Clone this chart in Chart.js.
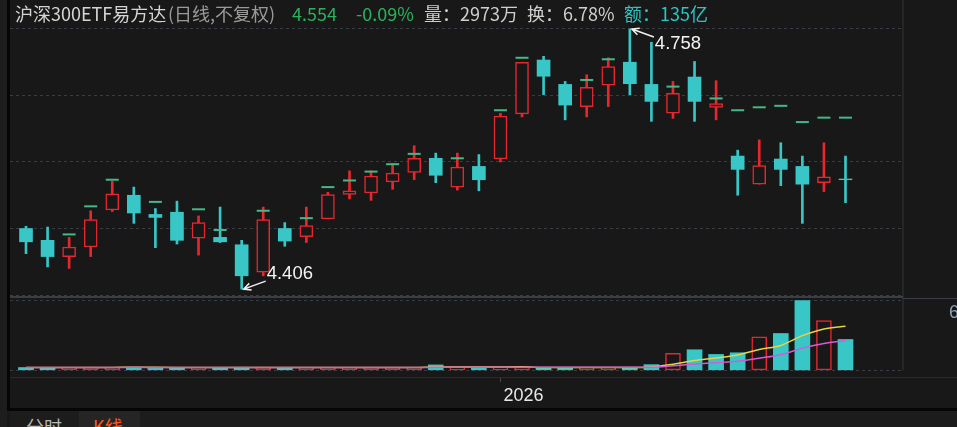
<!DOCTYPE html>
<html>
<head>
<meta charset="utf-8">
<script src="https://cdn.jsdelivr.net/npm/chart.js@4.4.1/dist/chart.umd.min.js"></script>
<style>
  html, body { margin: 0; padding: 0; background: #181818; width: 957px; height: 427px; overflow: hidden; }
  #wrap { position: relative; width: 957px; height: 427px; }
  #chart { position: absolute; left: 0; top: 0; }
  .strip { position: absolute; left: 0; top: 0; width: 7px; height: 427px; background: #1d1d1d; }
  .edge { position: absolute; left: 7px; top: 0; width: 3px; height: 411px; background: #060606; }
  .footline { position: absolute; left: 7px; top: 408px; width: 950px; height: 3px; background: #060606; }
  .footer { position: absolute; left: 10px; top: 411px; width: 947px; height: 16px; background: #1c1c1c; }
  .tabon { position: absolute; left: 79px; top: 411px; width: 61px; height: 16px; background: #252525; }
  .tab { position: absolute; top: 417px; font: 18px "Noto Sans CJK SC"; line-height: 18px; white-space: nowrap; }
  .title span { position: absolute; top: 4px; font: 18px "Noto Sans CJK SC"; line-height: 18px; white-space: nowrap; }
</style>
</head>
<body>
<div id="wrap">
  <div class="strip"></div>
  <div class="edge"></div>
  <div class="footline"></div>
  <div class="footer"></div>
  <div class="tabon"></div>
  <span class="tab" style="left:26px;color:#b8b8b8">分时</span>
  <span class="tab" style="left:93px;color:#ff5a1e">K线</span>
  <canvas id="chart" width="957" height="408"></canvas>
  <div class="title">
    <span style="left:15px;color:#d4d4d4">沪深300ETF易方达</span>
    <span style="left:168px;color:#9a9a9a">(日线,不复权)</span>
    <span style="left:292px;color:#2bb35b">4.554</span>
    <span style="left:356px;color:#2bb35b">-0.09%</span>
    <span style="left:424px;color:#cfcfcf">量：2973万</span>
    <span style="left:527px;color:#cfcfcf">换：6.78%</span>
    <span style="left:624px;color:#2ec4c4">额：135亿</span>
  </div>
</div>
<script>
// trading days shown
const dates = [
  '2025-12-02','2025-12-03','2025-12-04','2025-12-05','2025-12-08','2025-12-09','2025-12-10',
  '2025-12-11','2025-12-12','2025-12-15','2025-12-16','2025-12-17','2025-12-18','2025-12-19',
  '2025-12-22','2025-12-23','2025-12-24','2025-12-25','2025-12-26','2025-12-29','2025-12-30',
  '2025-12-31','2026-01-05','2026-01-06','2026-01-07','2026-01-08','2026-01-09','2026-01-12',
  '2026-01-13','2026-01-14','2026-01-15','2026-01-16','2026-01-19','2026-01-20','2026-01-21',
  '2026-01-22','2026-01-23','2026-01-26','2026-01-27'
];
const opens  = [4.488,4.472,4.450,4.463,4.513,4.533,4.507,4.510,4.475,4.476,4.466,4.429,4.488,4.477,
                4.501,4.534,4.536,4.551,4.564,4.583,4.544,4.572,4.582,4.643,4.716,4.683,4.653,4.682,
                4.713,4.683,4.644,4.693,4.652,4.586,4.548,4.582,4.572,4.550,4.555];
const highs  = [4.491,4.490,4.476,4.512,4.552,4.544,4.515,4.525,4.505,4.517,4.472,4.517,4.496,4.517,
                4.537,4.566,4.566,4.576,4.600,4.590,4.590,4.588,4.644,4.713,4.721,4.687,4.696,4.719,
                4.758,4.740,4.687,4.714,4.688,4.594,4.608,4.604,4.586,4.604,4.586];
const lows   = [4.454,4.436,4.434,4.450,4.511,4.495,4.462,4.467,4.452,4.469,4.406,4.424,4.464,4.469,
                4.501,4.528,4.526,4.541,4.554,4.550,4.540,4.539,4.578,4.639,4.669,4.635,4.639,4.653,
                4.669,4.633,4.637,4.633,4.635,4.533,4.548,4.546,4.495,4.538,4.523];
const closes = [4.470,4.450,4.463,4.500,4.535,4.509,4.503,4.472,4.496,4.470,4.424,4.500,4.471,4.492,
                4.534,4.539,4.559,4.563,4.583,4.560,4.571,4.554,4.640,4.713,4.694,4.655,4.679,4.707,
                4.684,4.660,4.671,4.660,4.657,4.568,4.573,4.568,4.548,4.558,4.554];
// green marks drawn above the candles
const markers = [null,null,4.480,4.518,4.554,null,4.524,null,4.514,4.486,null,4.512,null,4.502,
                 4.544,4.553,4.565,4.575,4.589,null,4.583,null,4.648,4.719,null,null,4.689,4.717,
                 null,null,4.680,null,4.664,4.648,4.652,4.654,4.632,4.638,4.638];
// volume, 万
const volumes = [270,260,285,300,280,300,250,270,260,245,290,300,255,260,280,265,255,250,275,520,
                 280,265,290,300,260,250,270,280,240,545,1630,1980,1530,1690,3220,3550,6710,4790,2973];
const priceTicks = [4.398, 4.488, 4.578, 4.668, 4.758];

const UP = '#e8262e', DOWN = '#38c6c6', BG = '#181818';

function isUp(i) {
  if (closes[i] !== opens[i]) return closes[i] > opens[i];
  return i > 0 ? closes[i] >= closes[i - 1] : true;
}
function volUp(i) {
  return i > 0 ? closes[i] >= closes[i - 1] : closes[i] >= opens[i];
}
function movingAvg(arr, n) {
  return arr.map((v, i) => {
    const part = arr.slice(Math.max(0, i - n + 1), i + 1);
    return part.reduce((a, b) => a + b, 0) / part.length;
  });
}
const ma5 = movingAvg(volumes, 5);
const ma10 = movingAvg(volumes, 10);

// first index of each new year -> x axis label
const yearStarts = dates.map((d, i) => i).filter(i => i > 0 && dates[i].slice(0, 4) !== dates[i - 1].slice(0, 4));

// keep axis label padding from shrinking the plot
function noPad(s) {
  s.paddingTop = 0; s.paddingBottom = 0; s.paddingLeft = 0; s.paddingRight = 0;
}

//arrows to the highest and lowest price
function drawMark(ctx, x, y, up, text) {
  const dir = up ? 1 : -1;
  const tx = x + 2, ty = y;
  const ex = x + 24, ey = y + dir * 8;
  ctx.strokeStyle = '#f2f2f2';
  ctx.lineWidth = 1.5;
  ctx.beginPath();
  ctx.moveTo(ex, ey);
  ctx.lineTo(tx, ty);
  const ang = Math.atan2(ey - ty, ex - tx);
  ctx.moveTo(tx + Math.cos(ang + 0.45) * 8, ty + Math.sin(ang + 0.45) * 8);
  ctx.lineTo(tx, ty);
  ctx.lineTo(tx + Math.cos(ang - 0.45) * 8, ty + Math.sin(ang - 0.45) * 8);
  ctx.stroke();
  ctx.fillStyle = '#f4f4f4';
  ctx.font = '18.5px "Liberation Sans"';
  ctx.textAlign = 'left';
  ctx.textBaseline = 'middle';
  ctx.fillText(text, ex + 1, y + dir * 15);
}

const framePlugin = {
  id: 'frame',
  beforeDatasetsDraw(chart) {
    const { ctx, chartArea: a } = chart;
    const sep = chart.scales.y.bottom;
    const base = chart.scales.yv.getPixelForValue(0);
    ctx.save();
    ctx.fillStyle = '#262626';
    ctx.fillRect(a.right, 0, 2, base);
    ctx.fillStyle = '#3a3e47';
    ctx.fillRect(a.left, sep - 1, a.right + 1 - a.left, 2);
    ctx.fillRect(a.right + 1, sep + 1, chart.width, 1);
    ctx.fillStyle = '#2a2a2a';
    ctx.fillRect(a.left, a.bottom, chart.width, 1);
    ctx.restore();
  },
  afterDatasetsDraw(chart) {
    const { ctx } = chart;
    const xs = chart.scales.x, ys = chart.scales.y;
    const hi = highs.indexOf(Math.max(...highs));
    const lo = lows.indexOf(Math.min(...lows));
    ctx.save();
    drawMark(ctx, xs.getPixelForValue(hi), ys.getPixelForValue(highs[hi]), true, highs[hi].toFixed(3));
    drawMark(ctx, xs.getPixelForValue(lo), ys.getPixelForValue(lows[lo]), false, lows[lo].toFixed(3));
    ctx.restore();
  }
};

const idx = dates.map((d, i) => i);

new Chart(document.getElementById('chart'), {
  plugins: [framePlugin],
  data: {
    datasets: [
      {
        type: 'line',
        yAxisID: 'y',
        data: idx.map(i => ({ x: i, y: markers[i] })),
        showLine: false,
        pointStyle: 'line',
        pointRadius: 6.5,
        pointBorderWidth: 2,
        pointBorderColor: '#44b987',
        order: 1
      },
      {
        type: 'bar',
        yAxisID: 'y',
        data: idx.map(i => ({ x: i, y: [opens[i], closes[i]] })),
        backgroundColor: c => isUp(c.dataIndex) ? BG : DOWN,
        borderColor: c => isUp(c.dataIndex) ? UP : DOWN,
        borderWidth: c => isUp(c.dataIndex) ? 1.5 : 0,
        borderSkipped: false,
        barThickness: 13,
        grouped: false,
        order: 2
      },
      {
        type: 'bar',
        yAxisID: 'y',
        data: idx.map(i => ({ x: i, y: [lows[i], highs[i]] })),
        backgroundColor: c => isUp(c.dataIndex) ? UP : DOWN,
        barThickness: 2,
        grouped: false,
        order: 3
      },
      {
        type: 'line',
        yAxisID: 'yv',
        data: idx.map(i => ({ x: i, y: ma10[i] })),
        borderColor: '#d65ad6',
        borderWidth: 1.5,
        pointRadius: 0,
        cubicInterpolationMode: 'monotone',
        order: 4
      },
      {
        type: 'line',
        yAxisID: 'yv',
        data: idx.map(i => ({ x: i, y: ma5[i] })),
        borderColor: '#e6d247',
        borderWidth: 1.5,
        pointRadius: 0,
        cubicInterpolationMode: 'monotone',
        order: 5
      },
      {
        type: 'bar',
        yAxisID: 'yv',
        data: idx.map(i => ({ x: i, y: volumes[i] })),
        backgroundColor: c => volUp(c.dataIndex) ? BG : DOWN,
        borderColor: c => volUp(c.dataIndex) ? UP : DOWN,
        borderWidth: c => volUp(c.dataIndex) ? 1.5 : 0,
        borderSkipped: false,
        barThickness: 15,
        grouped: false,
        order: 6
      }
    ]
  },
  options: {
    responsive: false,
    animation: false,
    devicePixelRatio: 1,
    layout: { autoPadding: false, padding: { left: 10, top: 0, right: 0, bottom: 0 } },
    plugins: { legend: { display: false }, tooltip: { enabled: false } },
    scales: {
      x: {
        type: 'linear',
        offset: false,
        min: -0.742,
        max: 40.62,
        grid: { offset: false, drawOnChartArea: false, drawTicks: true, tickLength: 5, tickColor: '#4a4a4a' },
        border: { display: false },
        ticks: {
          color: '#e8e8e8',
          font: { family: 'Liberation Sans', size: 18 },
          align: 'start',
          labelOffset: 3,
          padding: 3,
          autoSkip: false,
          maxRotation: 0,
          callback: v => dates[v] ? dates[v].slice(0, 4) : ''
        },
        afterBuildTicks: s => { s.ticks = yearStarts.map(i => ({ value: i })); },
        afterFit: s => { s.height = 31; noPad(s); }
      },
      y: {
        position: 'right',
        stack: 'v',
        stackWeight: 297,
        min: 4.3953,
        max: 4.7972,
        grid: { color: '#383c44', drawTicks: false },
        border: { display: false, dash: [3, 3] },
        ticks: { display: false },
        afterBuildTicks: s => { s.ticks = priceTicks.map(v => ({ value: v })); },
        afterFit: s => { s.width = 55; noPad(s); }
      },
      yv: {
        position: 'right',
        stack: 'v',
        stackWeight: 80,
        min: -646,
        max: 7067,
        grid: { color: '#383c44', drawTicks: false },
        border: { display: false, dash: [3, 3] },
        ticks: {
          color: '#8ea4ba',
          font: { family: 'Liberation Sans', size: 18 },
          padding: 47,
          labelOffset: 12,
          callback: v => v > 0 ? Math.round(v) + '万' : ''
        },
        afterBuildTicks: s => { s.ticks = [{ value: 0 }, { value: Math.max(...volumes) }]; },
        afterFit: s => { s.width = 55; noPad(s); }
      }
    }
  }
});
</script>
</body>
</html>
